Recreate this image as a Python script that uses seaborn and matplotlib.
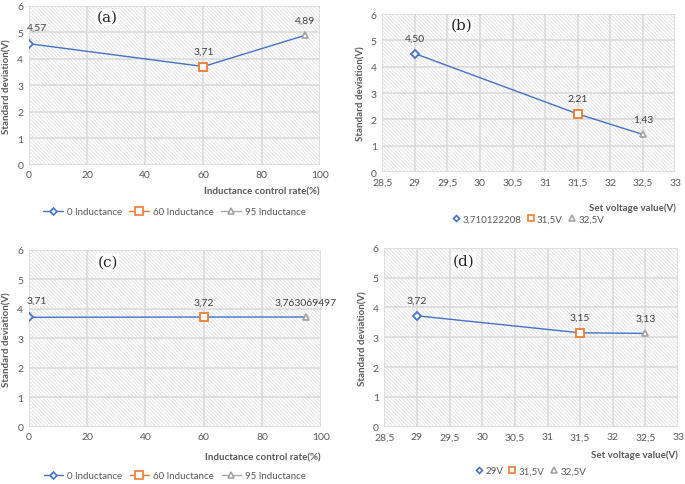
import numpy as np
import pandas as pd
import seaborn as sns
import matplotlib.pyplot as plt
import matplotlib.patches as mpatches
from matplotlib.lines import Line2D

# data
rate_x = [0, 60, 95]
volt_x = [29, 31.5, 32.5]
sd_a = [4.57, 3.71, 4.89]
sd_b = [4.50, 2.21, 1.43]
sd_c = [3.71, 3.72, 3.72]
sd_d = [3.72, 3.15, 3.13]
lab_a = ['4,57', '3,71', '4,89']
lab_b = ['4,50', '2,21', '1,43']
lab_c = ['3,71', '3,72', '3,763069497']
lab_d = ['3,72', '3,15', '3,13']
names_rate = ['0 Inductance', '60 Inductance', '95 Inductance']
names_b = ['3,710122208', '31,5V', '32,5V']
names_d = ['29V', '31,5V', '32,5V']
rate_ticks = [0, 20, 40, 60, 80, 100]
volt_ticks = [28.5, 29, 29.5, 30, 30.5, 31, 31.5, 32, 32.5, 33]
volt_ticklabels = ['28,5', '29', '29,5', '30', '30,5', '31', '31,5', '32', '32,5', '33']
y_ticks = [0, 1, 2, 3, 4, 5, 6]

sns.set_style('white')
plt.rcParams['font.family'] = ['Lato', 'DejaVu Sans']
plt.rcParams['hatch.linewidth'] = 0.7

blue, orange, gray = '#4472C4', '#ED7D31', '#A5A5A5'
cols = [blue, orange, gray]
marks = ['D', 's', '^']
msizes = [4, 6, 5]
txt = '#595959'

fig = plt.figure(figsize=(6.85, 4.85), dpi=100)
ax_a = fig.add_axes([0.042, 0.658, 0.425, 0.328])
ax_b = fig.add_axes([0.558, 0.643, 0.428, 0.326])
ax_c = fig.add_axes([0.042, 0.118, 0.426, 0.365])
ax_d = fig.add_axes([0.561, 0.118, 0.429, 0.369])

panels = [
    (ax_a, rate_x, sd_a, lab_a, names_rate, '(a)', 'Inductance control rate(%)', True, -0.296, 5),
    (ax_b, volt_x, sd_b, lab_b, names_b, '(b)', 'Set voltage value(V)', False, -0.297, 11),
    (ax_c, rate_x, sd_c, lab_c, names_rate, '(c)', 'Inductance control rate(%)', True, -0.277, 8),
    (ax_d, volt_x, sd_d, lab_d, names_d, '(d)', 'Set voltage value(V)', False, -0.246, 6),
]

for ax, xs, ys, labs, names, tag, xlab, rate, legy, xpad in panels:
    # hatched plot area
    ax.add_patch(mpatches.Rectangle((0, 0), 1, 1, transform=ax.transAxes, facecolor='white',
                                    edgecolor='#e4e4e4', lw=0, hatch='\\' * 9, zorder=0))
    df = pd.DataFrame({'x': xs, 'y': ys, 'name': names})
    sns.lineplot(data=df, x='x', y='y', ax=ax, color=blue, lw=1, sort=False, zorder=3)
    for i in range(3):
        sns.lineplot(data=df.iloc[[i]], x='x', y='y', ax=ax, marker=marks[i], ms=msizes[i],
                     markerfacecolor='white', markeredgecolor=cols[i], mew=1.3, lw=0, zorder=4)
    for i in range(3):
        if i == 0 and rate:
            ax.annotate(labs[i], (xs[i], ys[i]), xytext=(6, 12), textcoords='offset points',
                        ha='center', va='center', fontsize=7.5, color='#404040',
                        arrowprops=dict(arrowstyle='-', color='#bfbfbf', lw=0.6, shrinkA=3, shrinkB=2))
        else:
            ax.annotate(labs[i], (xs[i], ys[i]), xytext=(0, 11), textcoords='offset points',
                        ha='center', va='center', fontsize=7.5, color='#404040')
    if rate:
        ax.set_xlim(0, 100)
        ax.set_xticks(rate_ticks)
        ax.set_xticklabels([str(t) for t in rate_ticks])
    else:
        ax.set_xlim(28.5, 33)
        ax.set_xticks(volt_ticks)
        ax.set_xticklabels(volt_ticklabels)
    ax.text(0.27, 0.93, tag, transform=ax.transAxes, family='DejaVu Serif', fontsize=11,
            ha='center', va='center', zorder=5,
            bbox=dict(facecolor='white', edgecolor='none', pad=1))
    ax.set_ylim(0, 6)
    ax.set_yticks(y_ticks)
    ax.grid(True, color='#d9d9d9', lw=1.1)
    ax.set_axisbelow(True)
    for s in ax.spines.values():
        s.set_visible(False)
    ax.tick_params(length=0, labelsize=7.5, labelcolor=txt, pad=4)
    ax.set_xlabel(xlab, loc='right', fontsize=7, fontweight='bold', color=txt, labelpad=xpad)
    ax.set_ylabel('Standard deviation(V)', fontsize=7, fontweight='bold', color=txt, labelpad=4)

    if rate:
        handles = [Line2D([], [], color=cols[i], lw=1, marker=marks[i], ms=msizes[i] - 0.5,
                          markerfacecolor='white', markeredgecolor=cols[i], mew=1.2) for i in range(3)]
        hl, cs = 2.0, 0.8
    else:
        handles = [Line2D([], [], lw=0, marker=marks[i], ms=msizes[i] - 1,
                          markerfacecolor='white', markeredgecolor=cols[i], mew=1.2) for i in range(3)]
        hl, cs = 0.5, 0.7
    ax.legend(handles, names, loc='center', bbox_to_anchor=(0.5, legy), ncol=3, frameon=False,
              fontsize=7, labelcolor=txt, handlelength=hl, handletextpad=0.4, columnspacing=cs)

plt.savefig('out.png', dpi=100)
